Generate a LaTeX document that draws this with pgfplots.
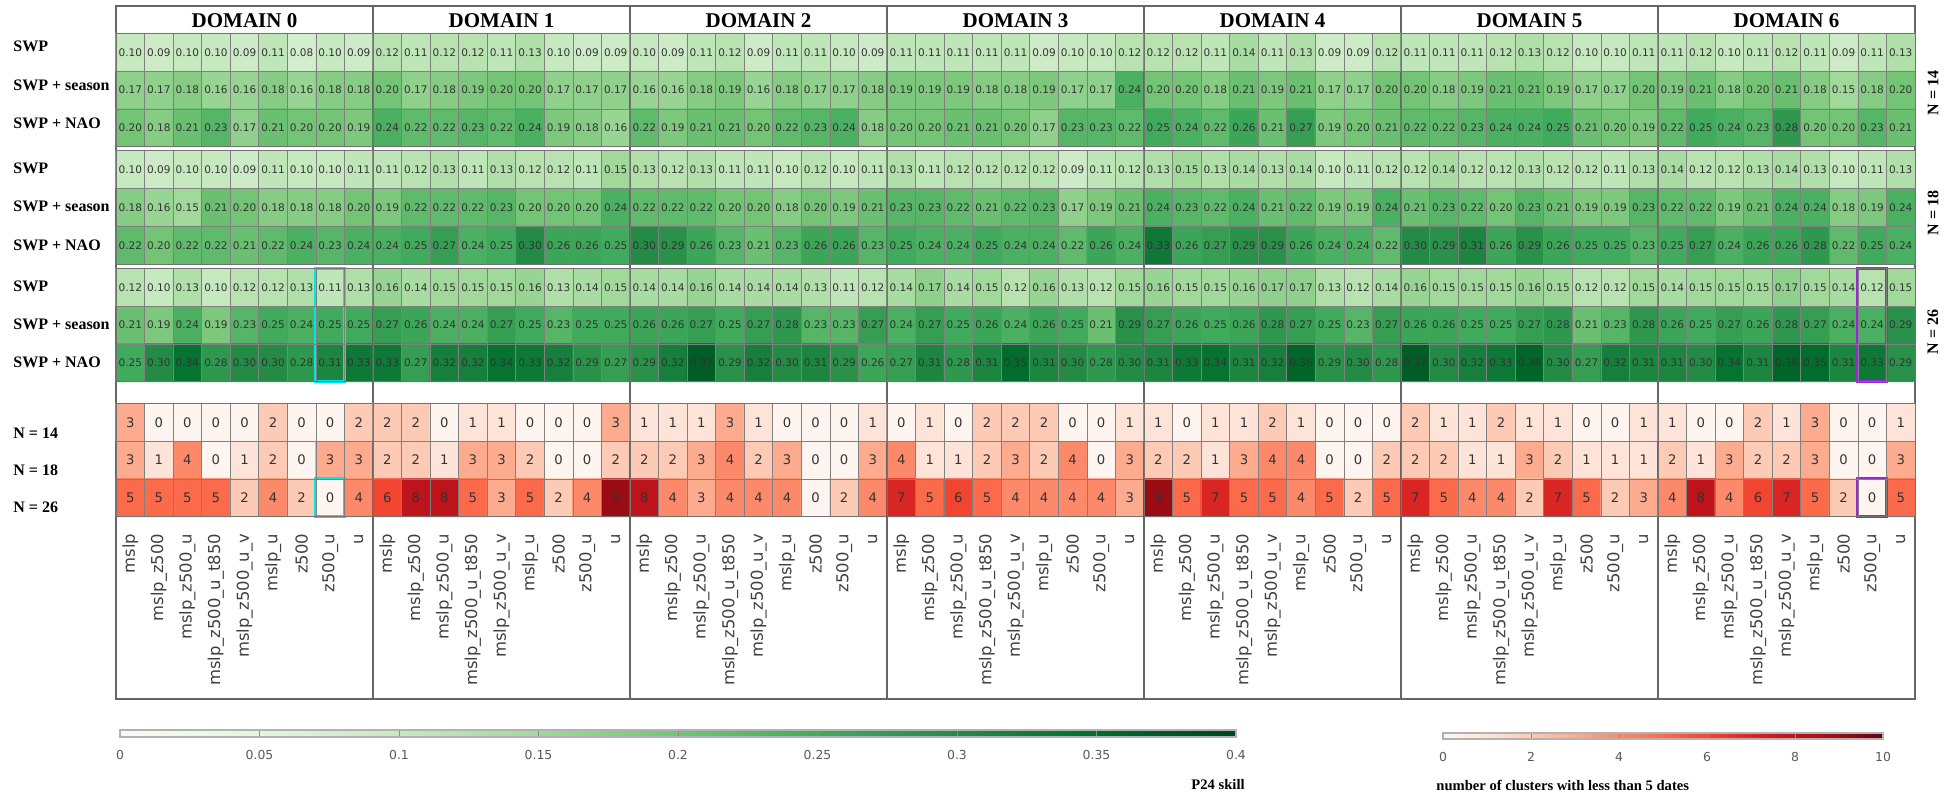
\documentclass[border=0pt]{standalone}
\usepackage{fontspec}
\setmainfont{Liberation Serif}
\newfontfamily\dejavu{DejaVu Sans}
\usepackage{pgfplots}
\pgfplotsset{compat=1.18}
\pgfkeys{/pgf/number format/assume math mode=true}
\definecolor{hlcyan}{RGB}{0,230,235}
\definecolor{hlpurple}{RGB}{150,40,215}
\pgfplotsset{
 colormap={greens}{rgb255=(247,252,245) rgb255=(229,245,224) rgb255=(199,233,192) rgb255=(161,217,155) rgb255=(116,196,118) rgb255=(65,171,93) rgb255=(35,139,69) rgb255=(0,109,44) rgb255=(0,68,27)},
 colormap={reds}{rgb255=(255,245,240) rgb255=(254,224,210) rgb255=(252,187,161) rgb255=(252,146,114) rgb255=(251,106,74) rgb255=(239,59,44) rgb255=(203,24,29) rgb255=(165,15,21) rgb255=(103,0,13)},
 hm/.style={scale only axis, width=128.5pt, height=56.7pt, anchor=north west,
   xmin=-0.5, xmax=8.5, ymin=-0.5, ymax=2.5, y dir=reverse,
   ytick={-0.5,0.5,1.5,2.5}, yticklabels={}, ymajorgrids,
   major tick length=0pt, minor tick length=0pt,
   grid style={black!50, line width=0.35pt},
   minor grid style={black!50, line width=0.35pt},
   axis line style={black!55, line width=0.5pt},
   axis on top, clip=false},
 skill/.style={hm, colormap name=greens, point meta min=0, point meta max=0.4,
   xtick={-0.5,0.5,...,8.5}, xticklabels={}, xmajorgrids},
 count/.style={hm, colormap name=reds, point meta min=0, point meta max=10,
   xtick={0,...,8}, minor xtick={-0.5,0.5,...,8.5}, xminorgrids,
   xticklabels={mslp,mslp\_z500,mslp\_z500\_u,mslp\_z500\_u\_t850,mslp\_z500\_u\_v,mslp\_u,z500,z500\_u,u},
   xticklabel shift=5pt,
   xticklabel style={rotate=90, anchor=east, font=\dejavu\fontsize{8.2}{9}\selectfont, text=black!75}},
 skillplot/.style={matrix plot*, mesh/cols=9, point meta=explicit,
   nodes near coords={\pgfmathprintnumber[fixed,fixed zerofill,precision=2]{\pgfplotspointmeta}},
   nodes near coords align={center},
   every node near coord/.append style={font=\dejavu\fontsize{5.25}{6}\selectfont, text=black!80, inner sep=0pt}},
 countplot/.style={matrix plot*, mesh/cols=9, point meta=explicit,
   nodes near coords={\pgfmathprintnumber[fixed,precision=0]{\pgfplotspointmeta}},
   nodes near coords align={center},
   every node near coord/.append style={font=\dejavu\fontsize{6.6}{7}\selectfont, text=black!80, inner sep=0pt}},
 cbar/.style={scale only axis, anchor=north west, ymin=0, ymax=1, ytick=\empty,
   xtick pos=bottom, tick align=inside,
   major tick style={black!45, line width=0.4pt},
   axis line style={black!30, line width=0.8pt},
   xticklabel shift=3pt,
   xticklabel style={font=\dejavu\fontsize{6.2}{7}\selectfont, text=black!65},
   axis on top},
}
% #1 left, #2 centre, #3 index, #4-#6 skill groups, #7 counts, #8 extra G3, #9 extra counts
\newcommand\domain[9]{%
 \draw[black!60, line width=0.6pt] (#1pt,-3pt) rectangle ++(128.5pt,-346.5pt);
 \node[font=\bfseries\fontsize{10.5}{12}\selectfont, inner sep=0pt] at (#2pt,-10.15pt) {DOMAIN #3};
 \begin{axis}[skill, at={(#1pt,-16.65pt)}]
  \addplot[skillplot] table[row sep=\\, header=false, x expr={mod(\coordindex,9)}, y expr={floor(\coordindex/9)}, meta index=0] {#4};
 \end{axis}
 \begin{axis}[skill, at={(#1pt,-75.35pt)}]
  \addplot[skillplot] table[row sep=\\, header=false, x expr={mod(\coordindex,9)}, y expr={floor(\coordindex/9)}, meta index=0] {#5};
 \end{axis}
 \begin{axis}[skill, at={(#1pt,-134.15pt)}]
  \addplot[skillplot] table[row sep=\\, header=false, x expr={mod(\coordindex,9)}, y expr={floor(\coordindex/9)}, meta index=0] {#6};
  #8
 \end{axis}
 \begin{axis}[count, at={(#1pt,-201.65pt)}]
  \addplot[countplot] table[row sep=\\, header=false, x expr={mod(\coordindex,9)}, y expr={floor(\coordindex/9)}, meta index=0] {#7};
  #9
 \end{axis}
}
\begin{document}
\begin{tikzpicture}
\useasboundingbox (0,0) rectangle (979.5pt,-397.5pt);

\domain{58}{122.25}{0}{%
0.10\\0.09\\0.10\\0.10\\0.09\\0.11\\0.08\\0.10\\0.09\\%
0.17\\0.17\\0.18\\0.16\\0.16\\0.18\\0.16\\0.18\\0.18\\%
0.20\\0.18\\0.21\\0.23\\0.17\\0.21\\0.20\\0.20\\0.19\\%
}{%
0.10\\0.09\\0.10\\0.10\\0.09\\0.11\\0.10\\0.10\\0.11\\%
0.18\\0.16\\0.15\\0.21\\0.20\\0.18\\0.18\\0.18\\0.20\\%
0.22\\0.20\\0.22\\0.22\\0.21\\0.22\\0.24\\0.23\\0.24\\%
}{%
0.12\\0.10\\0.13\\0.10\\0.12\\0.12\\0.13\\0.11\\0.13\\%
0.21\\0.19\\0.24\\0.19\\0.23\\0.25\\0.24\\0.25\\0.25\\%
0.25\\0.30\\0.34\\0.28\\0.30\\0.30\\0.28\\0.31\\0.33\\%
}{%
3\\0\\0\\0\\0\\2\\0\\0\\2\\%
3\\1\\4\\0\\1\\2\\0\\3\\3\\%
5\\5\\5\\5\\2\\4\\2\\0\\4\\%
}{\draw[hlcyan, line width=1.5pt] (axis cs:6.5,-0.5) rectangle (axis cs:7.5,2.5);}%
{\draw[hlcyan, line width=1.5pt] (axis cs:6.5,1.5) rectangle (axis cs:7.5,2.5);}

\domain{186.5}{250.75}{1}{%
0.12\\0.11\\0.12\\0.12\\0.11\\0.13\\0.10\\0.09\\0.09\\%
0.20\\0.17\\0.18\\0.19\\0.20\\0.20\\0.17\\0.17\\0.17\\%
0.24\\0.22\\0.22\\0.23\\0.22\\0.24\\0.19\\0.18\\0.16\\%
}{%
0.11\\0.12\\0.13\\0.11\\0.13\\0.12\\0.12\\0.11\\0.15\\%
0.19\\0.22\\0.22\\0.22\\0.23\\0.20\\0.20\\0.20\\0.24\\%
0.24\\0.25\\0.27\\0.24\\0.25\\0.30\\0.26\\0.26\\0.25\\%
}{%
0.16\\0.14\\0.15\\0.15\\0.15\\0.16\\0.13\\0.14\\0.15\\%
0.27\\0.26\\0.24\\0.24\\0.27\\0.25\\0.23\\0.25\\0.25\\%
0.33\\0.27\\0.32\\0.32\\0.34\\0.33\\0.32\\0.29\\0.27\\%
}{%
2\\2\\0\\1\\1\\0\\0\\0\\3\\%
2\\2\\1\\3\\3\\2\\0\\0\\2\\%
6\\8\\8\\5\\3\\5\\2\\4\\9\\%
}{}{}

\domain{315}{379.25}{2}{%
0.10\\0.09\\0.11\\0.12\\0.09\\0.11\\0.11\\0.10\\0.09\\%
0.16\\0.16\\0.18\\0.19\\0.16\\0.18\\0.17\\0.17\\0.18\\%
0.22\\0.19\\0.21\\0.21\\0.20\\0.22\\0.23\\0.24\\0.18\\%
}{%
0.13\\0.12\\0.13\\0.11\\0.11\\0.10\\0.12\\0.10\\0.11\\%
0.22\\0.22\\0.22\\0.20\\0.20\\0.18\\0.20\\0.19\\0.21\\%
0.30\\0.29\\0.26\\0.23\\0.21\\0.23\\0.26\\0.26\\0.23\\%
}{%
0.14\\0.14\\0.16\\0.14\\0.14\\0.14\\0.13\\0.11\\0.12\\%
0.26\\0.26\\0.27\\0.25\\0.27\\0.28\\0.23\\0.23\\0.27\\%
0.29\\0.32\\0.37\\0.29\\0.32\\0.30\\0.31\\0.29\\0.26\\%
}{%
1\\1\\1\\3\\1\\0\\0\\0\\1\\%
2\\2\\3\\4\\2\\3\\0\\0\\3\\%
8\\4\\3\\4\\4\\4\\0\\2\\4\\%
}{}{}

\domain{443.5}{507.75}{3}{%
0.11\\0.11\\0.11\\0.11\\0.11\\0.09\\0.10\\0.10\\0.12\\%
0.19\\0.19\\0.19\\0.18\\0.18\\0.19\\0.17\\0.17\\0.24\\%
0.20\\0.20\\0.21\\0.21\\0.20\\0.17\\0.23\\0.23\\0.22\\%
}{%
0.13\\0.11\\0.12\\0.12\\0.12\\0.12\\0.09\\0.11\\0.12\\%
0.23\\0.23\\0.22\\0.21\\0.22\\0.23\\0.17\\0.19\\0.21\\%
0.25\\0.24\\0.24\\0.25\\0.24\\0.24\\0.22\\0.26\\0.24\\%
}{%
0.14\\0.17\\0.14\\0.15\\0.12\\0.16\\0.13\\0.12\\0.15\\%
0.24\\0.27\\0.25\\0.26\\0.24\\0.26\\0.25\\0.21\\0.29\\%
0.27\\0.31\\0.28\\0.31\\0.35\\0.31\\0.30\\0.28\\0.30\\%
}{%
0\\1\\0\\2\\2\\2\\0\\0\\1\\%
4\\1\\1\\2\\3\\2\\4\\0\\3\\%
7\\5\\6\\5\\4\\4\\4\\4\\3\\%
}{}{}

\domain{572}{636.25}{4}{%
0.12\\0.12\\0.11\\0.14\\0.11\\0.13\\0.09\\0.09\\0.12\\%
0.20\\0.20\\0.18\\0.21\\0.19\\0.21\\0.17\\0.17\\0.20\\%
0.25\\0.24\\0.22\\0.26\\0.21\\0.27\\0.19\\0.20\\0.21\\%
}{%
0.13\\0.15\\0.13\\0.14\\0.13\\0.14\\0.10\\0.11\\0.12\\%
0.24\\0.23\\0.22\\0.24\\0.21\\0.22\\0.19\\0.19\\0.24\\%
0.33\\0.26\\0.27\\0.29\\0.29\\0.26\\0.24\\0.24\\0.22\\%
}{%
0.16\\0.15\\0.15\\0.16\\0.17\\0.17\\0.13\\0.12\\0.14\\%
0.27\\0.26\\0.25\\0.26\\0.28\\0.27\\0.25\\0.23\\0.27\\%
0.31\\0.33\\0.34\\0.31\\0.32\\0.36\\0.29\\0.30\\0.28\\%
}{%
1\\0\\1\\1\\2\\1\\0\\0\\0\\%
2\\2\\1\\3\\4\\4\\0\\0\\2\\%
9\\5\\7\\5\\5\\4\\5\\2\\5\\%
}{}{}

\domain{700.5}{764.75}{5}{%
0.11\\0.11\\0.11\\0.12\\0.13\\0.12\\0.10\\0.10\\0.11\\%
0.20\\0.18\\0.19\\0.21\\0.21\\0.19\\0.17\\0.17\\0.20\\%
0.22\\0.22\\0.23\\0.24\\0.24\\0.25\\0.21\\0.20\\0.19\\%
}{%
0.12\\0.14\\0.12\\0.12\\0.13\\0.12\\0.12\\0.11\\0.13\\%
0.21\\0.23\\0.22\\0.20\\0.23\\0.21\\0.19\\0.19\\0.23\\%
0.30\\0.29\\0.31\\0.26\\0.29\\0.26\\0.25\\0.25\\0.23\\%
}{%
0.16\\0.15\\0.15\\0.15\\0.16\\0.15\\0.12\\0.12\\0.15\\%
0.26\\0.26\\0.25\\0.25\\0.27\\0.28\\0.21\\0.23\\0.28\\%
0.37\\0.30\\0.32\\0.33\\0.36\\0.30\\0.27\\0.32\\0.31\\%
}{%
2\\1\\1\\2\\1\\1\\0\\0\\1\\%
2\\2\\1\\1\\3\\2\\1\\1\\1\\%
7\\5\\4\\4\\2\\7\\5\\2\\3\\%
}{}{}

\domain{829}{893.25}{6}{%
0.11\\0.12\\0.10\\0.11\\0.12\\0.11\\0.09\\0.11\\0.13\\%
0.19\\0.21\\0.18\\0.20\\0.21\\0.18\\0.15\\0.18\\0.20\\%
0.22\\0.25\\0.24\\0.23\\0.28\\0.20\\0.20\\0.23\\0.21\\%
}{%
0.14\\0.12\\0.12\\0.13\\0.14\\0.13\\0.10\\0.11\\0.13\\%
0.22\\0.22\\0.19\\0.21\\0.24\\0.24\\0.18\\0.19\\0.24\\%
0.25\\0.27\\0.24\\0.26\\0.26\\0.28\\0.22\\0.25\\0.24\\%
}{%
0.14\\0.15\\0.15\\0.15\\0.17\\0.15\\0.14\\0.12\\0.15\\%
0.26\\0.25\\0.27\\0.26\\0.28\\0.27\\0.24\\0.24\\0.29\\%
0.31\\0.30\\0.34\\0.31\\0.36\\0.35\\0.31\\0.33\\0.29\\%
}{%
1\\0\\0\\2\\1\\3\\0\\0\\1\\%
2\\1\\3\\2\\2\\3\\0\\0\\3\\%
4\\8\\4\\6\\7\\5\\2\\0\\5\\%
}{\draw[hlpurple, line width=1.5pt] (axis cs:6.5,-0.5) rectangle (axis cs:7.5,2.5);}%
{\draw[hlpurple, line width=1.5pt] (axis cs:6.5,1.5) rectangle (axis cs:7.5,2.5);}

% row labels
\foreach \yy/\tt in {26/SWP, 45.5/SWP + season, 64.5/SWP + NAO,
  87/SWP, 106/SWP + season, 125.5/SWP + NAO,
  146/SWP, 165/SWP + season, 184/SWP + NAO,
  219.5/N = 14, 238/N = 18, 256.5/N = 26}
  \node[anchor=base west, inner sep=0pt, font=\bfseries\fontsize{8}{9}\selectfont] at (6.5pt,-\yy pt) {\tt};
\foreach \yy/\tt in {46.5/N = 14, 106.5/N = 18, 166/N = 26}
  \node[rotate=90, inner sep=0pt, font=\bfseries\fontsize{8}{9}\selectfont] at (966.5pt,-\yy pt) {\tt};

% colour bars
\begin{axis}[cbar, at={(60pt,-365pt)}, width=558pt, height=3.6pt,
  xmin=0, xmax=0.4, major tick length=3.6pt,
  xtick={0,0.05,0.1,0.15,0.2,0.25,0.3,0.35,0.4},
  xticklabels={0,0.05,0.1,0.15,0.2,0.25,0.3,0.35,0.4},
  colormap name=greens, point meta min=0, point meta max=0.4]
 \addplot[surf, shader=interp, point meta=x, mesh/rows=2] coordinates {
  (0,0) (0.05,0) (0.1,0) (0.15,0) (0.2,0) (0.25,0) (0.3,0) (0.35,0) (0.4,0)
  (0,1) (0.05,1) (0.1,1) (0.15,1) (0.2,1) (0.25,1) (0.3,1) (0.35,1) (0.4,1)};
\end{axis}
\begin{axis}[cbar, at={(721.5pt,-366.5pt)}, width=220pt, height=3pt,
  xmin=0, xmax=10, major tick length=3pt,
  xtick={0,2,4,6,8,10}, xticklabels={0,2,4,6,8,10},
  colormap name=reds, point meta min=0, point meta max=10]
 \addplot[surf, shader=interp, point meta=x, mesh/rows=2] coordinates {
  (0,0) (1.25,0) (2.5,0) (3.75,0) (5,0) (6.25,0) (7.5,0) (8.75,0) (10,0)
  (0,1) (1.25,1) (2.5,1) (3.75,1) (5,1) (6.25,1) (7.5,1) (8.75,1) (10,1)};
\end{axis}
\node[anchor=east, inner sep=0pt, font=\bfseries\fontsize{7.3}{8}\selectfont] at (622.5pt,-392.5pt) {P24 skill};
\node[anchor=west, inner sep=0pt, font=\bfseries\fontsize{7.3}{8}\selectfont] at (718pt,-392.5pt) {number of clusters with less than 5 dates};
\end{tikzpicture}
\end{document}
